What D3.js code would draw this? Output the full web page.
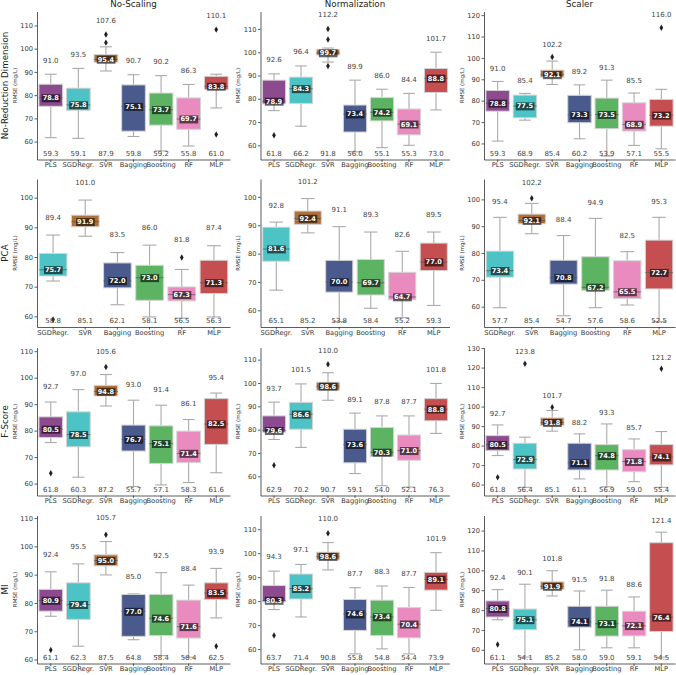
<!DOCTYPE html>
<html>
<head>
<meta charset="utf-8">
<style>
    body { margin: 0; background: #fff; }
    svg text { font-family: "DejaVu Sans", sans-serif; }
</style>
</head>
<body>
<div id="chart"></div>
<script src="https://d3js.org/d3.v7.min.js"></script>
<script>
// model names and their box colours
var models = ["PLS", "SGDRegr.", "SVR", "Bagging", "Boosting", "RF", "MLP"];
var modelColors = ["#8c4b8f", "#4dc3c5", "#b0703b", "#4b5a8d", "#5cb462", "#e98bbf", "#c54f50"];
var pcaModels = ["SGDRegr.", "SVR", "Bagging", "Boosting", "RF", "MLP"];

var scalings = ["No-Scaling", "Normalization", "Scaler"];
var reductions = ["No-Reduction Dimension", "PCA", "F-Score", "MI"];

// box stats per panel: [whisker low, q1, median, q3, whisker high]
var boxNoRed = [
    [[61.7, 75.2, 78.8, 84.7, 89.0], [61.4, 73.5, 75.8, 83.0, 91.5], [90.4, 94.1, 95.4, 97.5, 100.8], [62.2, 64.5, 75.1, 84.4, 88.8], [56.0, 67.1, 73.7, 80.9, 88.4], [58.1, 65.3, 69.7, 78.8, 84.6], [74.5, 82.3, 83.8, 88.1, 89.0]],
    [[74.9, 77.8, 78.9, 88.0, 90.7], [68.2, 78.0, 84.3, 89.3, 94.1], [95.8, 98.8, 99.7, 101.2, 101.8], [57.2, 65.7, 73.4, 77.3, 88.0], [59.0, 70.5, 74.2, 80.5, 84.1], [60.0, 64.5, 69.1, 75.6, 82.3], [75.2, 82.7, 88.8, 93.0, 100.0]],
    [[61.1, 75.1, 78.8, 84.8, 89.0], [70.9, 72.0, 77.5, 82.6, 83.4], [87.6, 91.0, 92.1, 94.3, 98.5], [62.2, 69.7, 73.3, 82.5, 87.4], [54.1, 66.9, 73.5, 81.2, 89.6], [59.1, 65.8, 68.9, 79.0, 83.6], [57.5, 68.1, 73.2, 80.6, 85.3]]
];
var boxPCA = [
    [[71.9, 73.6, 75.7, 81.2, 87.4], [87.0, 90.2, 91.9, 94.1, 99.2], [63.9, 69.6, 72.0, 78.0, 81.5], [59.8, 65.4, 73.0, 77.2, 84.0], [59.4, 65.2, 67.3, 69.9, 75.8], [59.8, 67.7, 71.3, 78.9, 83.8]],
    [[67.1, 77.3, 81.6, 89.3, 91.1], [87.3, 90.3, 92.4, 95.0, 99.4], [56.0, 66.4, 70.0, 77.6, 89.5], [60.7, 65.4, 69.7, 77.9, 87.6], [57.4, 63.7, 64.7, 73.4, 80.8], [61.7, 74.0, 77.0, 83.7, 87.6]],
    [[59.6, 71.0, 73.4, 80.7, 93.3], [87.2, 90.9, 92.1, 94.5, 98.5], [56.6, 68.4, 70.8, 77.3, 86.5], [59.6, 66.1, 67.2, 78.6, 92.9], [60.6, 63.0, 65.5, 77.1, 80.5], [54.4, 66.6, 72.7, 84.8, 93.3]]
];
var boxFScore = [
    [[75.5, 77.4, 80.5, 85.2, 90.8], [62.4, 73.9, 78.5, 87.1, 95.5], [89.3, 93.1, 94.8, 97.1, 101.2], [58.9, 72.3, 76.7, 82.1, 91.5], [59.5, 67.6, 75.1, 81.8, 89.6], [60.4, 67.9, 71.4, 79.8, 84.2], [64.1, 74.8, 82.5, 92.1, 94.2]],
    [[75.8, 78.9, 79.6, 85.9, 91.8], [72.4, 80.2, 86.6, 91.7, 99.6], [92.6, 96.9, 98.6, 100.3, 104.4], [61.2, 65.8, 73.6, 80.2, 87.1], [56.0, 68.5, 70.3, 80.9, 85.9], [55.4, 66.9, 71.0, 77.7, 85.9], [78.4, 83.8, 88.8, 93.3, 99.8]],
    [[74.9, 77.4, 80.5, 85.1, 90.6], [58.6, 68.0, 72.9, 81.2, 84.3], [87.4, 90.3, 91.8, 94.2, 98.0], [62.9, 67.5, 71.1, 81.2, 86.0], [58.9, 67.5, 74.8, 80.5, 91.1], [61.5, 66.6, 71.8, 77.9, 83.4], [58.6, 70.1, 74.1, 80.5, 87.2]]
];
var boxMI = [
    [[75.3, 77.1, 80.9, 84.8, 91.0], [64.7, 74.2, 79.4, 87.1, 93.8], [89.9, 93.1, 95.0, 97.0, 101.7], [67.0, 68.2, 77.0, 83.0, 83.2], [61.4, 68.5, 74.6, 83.0, 90.7], [60.8, 67.6, 71.6, 81.0, 86.3], [74.7, 81.2, 83.5, 87.1, 92.2]],
    [[76.5, 79.7, 80.3, 86.5, 92.5], [73.4, 80.9, 85.2, 91.3, 95.3], [93.0, 97.2, 98.6, 100.4, 104.4], [58.0, 67.8, 74.6, 80.7, 85.6], [60.1, 65.7, 73.4, 80.4, 86.3], [58.0, 64.7, 70.4, 77.3, 85.7], [76.2, 84.6, 89.1, 92.0, 100.2]],
    [[75.1, 76.5, 80.8, 84.6, 90.3], [56.3, 70.1, 75.1, 80.5, 93.0], [87.1, 90.3, 91.9, 94.2, 99.8], [60.0, 71.4, 74.1, 81.9, 89.6], [61.0, 66.9, 73.1, 81.9, 90.0], [61.0, 67.0, 72.1, 79.4, 86.6], [56.3, 69.2, 76.4, 113.9, 119.2]]
];

// outlier points per panel, one list per model
var outNoRed = [
    [[], [], [102.6, 106.1], [], [], [], [108.2, 63.1]],
    [[64.3], [], [110.0, 105.5, 94.1], [], [], [], []],
    [[], [], [100.4], [], [], [], [114.1]]
];
var outPCA = [
    [[58.9], [], [], [], [79.8], []],
    [[], [], [], [], [], []],
    [[], [100.4], [], [], [], []]
];
var outFScore = [
    [[63.9], [], [104.0], [], [], [], []],
    [[64.8], [], [108.0], [], [], [], []],
    [[63.7], [122.0], [99.7], [], [], [], [119.4]]
];
var outMI = [
    [[63.4], [], [104.1], [], [], [], [64.7]],
    [[65.7], [], [108.3], [], [], [], []],
    [[62.7], [], [], [], [], [], []]
];

// max / min annotations
var maxNoRed = [[91.0, 93.5, 107.6, 90.7, 90.2, 86.3, 110.1], [92.6, 96.4, 112.2, 89.9, 86.0, 84.4, 101.7], [91.0, 85.4, 102.2, 89.2, 91.3, 85.5, 116.0]];
var minNoRed = [[59.3, 59.1, 87.9, 59.8, 59.2, 55.8, 61.0], [61.8, 66.2, 91.8, 56.0, 55.1, 55.3, 73.0], [59.3, 68.9, 85.4, 60.2, 53.9, 57.1, 55.5]];
var maxPCA = [[89.4, 101.0, 83.5, 86.0, 81.8, 87.4], [92.8, 101.2, 91.1, 89.3, 82.6, 89.5], [95.4, 102.2, 88.4, 94.9, 82.5, 95.3]];
var minPCA = [[58.8, 85.1, 62.1, 58.1, 56.5, 56.3], [65.1, 85.2, 53.8, 58.4, 55.2, 59.3], [57.7, 85.4, 54.7, 57.6, 58.6, 52.5]];
var maxFScore = [[92.7, 97.0, 105.6, 93.0, 91.4, 86.1, 95.4], [93.7, 101.5, 110.0, 89.1, 87.8, 87.7, 101.8], [92.7, 123.8, 101.7, 88.2, 93.3, 85.7, 121.2]];
var minFScore = [[61.8, 60.3, 87.2, 55.7, 57.1, 58.3, 61.6], [62.9, 70.2, 90.7, 59.1, 54.0, 52.1, 76.3], [61.8, 56.4, 85.1, 61.1, 56.9, 59.0, 55.4]];
var maxMI = [[92.4, 95.5, 105.7, 85.0, 92.5, 88.4, 93.9], [94.3, 97.1, 110.0, 87.7, 88.3, 87.7, 101.9], [92.4, 90.1, 101.8, 91.5, 91.8, 88.6, 121.4]];
var minMI = [[61.1, 62.3, 87.5, 64.8, 58.4, 58.4, 62.5], [63.7, 71.4, 90.8, 55.8, 54.8, 54.4, 73.9], [61.1, 54.1, 85.2, 58.0, 59.0, 59.1, 54.5]];

// y axis limits per panel
var yLimits = [
    [[52.3, 116.0], [53.9, 117.5], [52.5, 121.7]],
    [[56.4, 106.3], [54.1, 106.3], [52.4, 107.6]],
    [[55.5, 111.4], [51.8, 115.2], [54.4, 130.3]],
    [[58.6, 110.9], [54.0, 115.7], [53.1, 127.6]]
];

var rows = [
    { names: models, box: boxNoRed, out: outNoRed, max: maxNoRed, min: minNoRed },
    { names: pcaModels, box: boxPCA, out: outPCA, max: maxPCA, min: minPCA },
    { names: models, box: boxFScore, out: outFScore, max: maxFScore, min: minFScore },
    { names: models, box: boxMI, out: outMI, max: maxMI, min: minMI }
];

var width = 676, height = 675;
var colLeft = [37, 260.5, 484], colWidth = [193, 189, 191];
var rowTop = [11.5, 179, 347.5, 515.5], panelH = 148;

var svg = d3.select("#chart").append("svg")
    .attr("width", width)
    .attr("height", height);

rows.forEach(function (row, r) {
    scalings.forEach(function (scaling, c) {
        var w = colWidth[c];
        var g = svg.append("g")
            .attr("transform", "translate(" + colLeft[c] + "," + rowTop[r] + ")");

        var x = d3.scaleBand().domain(row.names).range([0, w]);
        var y = d3.scaleLinear().domain(yLimits[r][c]).range([panelH, 0]);
        var bw = x.bandwidth() * 0.86;

        var ticks = d3.range(60, yLimits[r][c][1] + 0.01, 10);

        // axes
        var ya = g.append("g")
            .call(d3.axisLeft(y).tickValues(ticks).tickSize(2.5).tickPadding(1.5)
                .tickSizeOuter(0).tickFormat(d3.format("d")));
        var xa = g.append("g")
            .attr("transform", "translate(0," + panelH + ")")
            .call(d3.axisBottom(x).tickSize(2.5).tickSizeOuter(0));
        [ya, xa].forEach(function (a) {
            a.selectAll("path, line").attr("stroke", "#333").attr("stroke-width", 0.8);
            a.selectAll("text").attr("fill", "#333").style("font-size", "6.7px");
        });
        xa.selectAll("text").attr("y", 3.2).attr("dy", "0.71em");

        g.append("text")
            .attr("transform", "translate(-22," + panelH / 2 + ") rotate(-90)")
            .attr("text-anchor", "middle")
            .attr("dy", "0.35em")
            .style("font-size", "5.5px")
            .attr("fill", "#333")
            .text("RMSE (mg/L)");

        row.names.forEach(function (name, i) {
            var s = row.box[c][i];
            var outs = row.out[c][i];
            var col = modelColors[models.indexOf(name)];
            var cx = x(name) + x.bandwidth() / 2;
            var bg = g.append("g");

            // whiskers + caps
            [[s[0], s[1]], [s[3], s[4]]].forEach(function (p) {
                bg.append("line")
                    .attr("x1", cx).attr("x2", cx)
                    .attr("y1", y(p[0])).attr("y2", y(p[1]))
                    .attr("stroke", "#aaa").attr("stroke-width", 1.1);
            });
            [s[0], s[4]].forEach(function (v) {
                bg.append("line")
                    .attr("x1", cx - bw / 4).attr("x2", cx + bw / 4)
                    .attr("y1", y(v)).attr("y2", y(v))
                    .attr("stroke", "#aaa").attr("stroke-width", 1.1);
            });

            bg.append("rect")
                .attr("x", cx - bw / 2)
                .attr("width", bw)
                .attr("y", y(s[3]))
                .attr("height", y(s[1]) - y(s[3]))
                .attr("fill", col)
                .attr("stroke", "#d4d4d4")
                .attr("stroke-width", 1);

            bg.append("line")
                .attr("x1", cx - bw / 2).attr("x2", cx + bw / 2)
                .attr("y1", y(s[2])).attr("y2", y(s[2]))
                .attr("stroke", "#555").attr("stroke-width", 0.7);

            outs.forEach(function (v) {
                bg.append("path")
                    .attr("transform", "translate(" + cx + "," + y(v) + ")")
                    .attr("d", d3.symbol().type(d3.symbolDiamond).size(12))
                    .attr("fill", "#222");
            });

            // median label with dark box
            var lbl = bg.append("text")
                .attr("x", cx)
                .attr("y", y(s[2]))
                .attr("dy", "0.36em")
                .attr("text-anchor", "middle")
                .attr("fill", "#fff")
                .style("font-size", "6.6px")
                .style("font-weight", "bold")
                .text(s[2].toFixed(1));
            var bb = lbl.node().getBBox();
            bg.insert("rect", "text")
                .attr("x", bb.x - 1)
                .attr("y", bb.y)
                .attr("width", bb.width + 2)
                .attr("height", bb.height)
                .attr("fill", "#000")
                .attr("fill-opacity", 0.6);

            // max label a bit above the highest point, min label at the bottom
            var top = d3.max([s[4]].concat(outs));
            g.append("text")
                .attr("x", cx)
                .attr("y", y(top + 6))
                .attr("dy", "0.35em")
                .attr("text-anchor", "middle")
                .attr("fill", "#444")
                .style("font-size", "7px")
                .text(row.max[c][i].toFixed(1));
            g.append("text")
                .attr("x", cx)
                .attr("y", panelH - 4)
                .attr("text-anchor", "middle")
                .attr("fill", "#444")
                .style("font-size", "7px")
                .text(row.min[c][i].toFixed(1));
        });

        if (r === 0) {
            g.append("text")
                .attr("x", w / 2)
                .attr("y", -4.2)
                .attr("text-anchor", "middle")
                .attr("fill", "#222")
                .style("font-size", "8.7px")
                .text(scaling);
        }
        if (c === 0) {
            g.append("text")
                .attr("transform", "translate(-32," + panelH / 2 + ") rotate(-90)")
                .attr("text-anchor", "middle")
                .attr("dy", "0.35em")
                .attr("fill", "#222")
                .style("font-size", "8.7px")
                .text(reductions[r]);
        }
    });
});
</script>
</body>
</html>
